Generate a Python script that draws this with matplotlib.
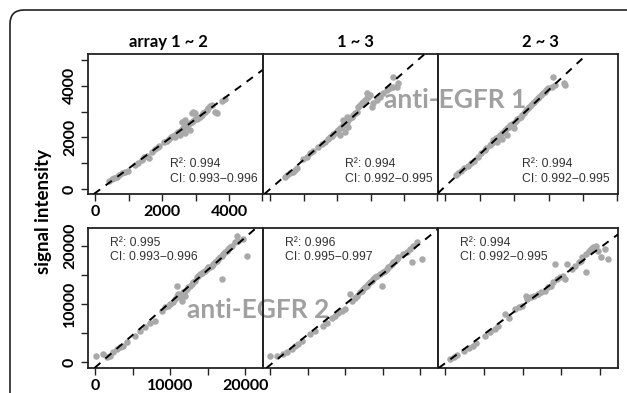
import numpy as np
import matplotlib.pyplot as plt
from matplotlib.patches import FancyBboxPatch
from matplotlib.transforms import IdentityTransform

plt.rcParams['font.family'] = ['Lato', 'DejaVu Sans']

W, H = 627, 393

# anti-EGFR 1 (top row), signal intensity pairs
e1_12_x = [418, 497, 577, 647, 726, 816, 896, 975, 1194, 1293, 1393, 1473, 1542, 1612, 1692, 1791,
           1871, 1910, 2070, 2139, 2209, 2269, 2338, 2388, 2438, 2488, 2537, 2587, 2637, 2687, 2736,
           2786, 2836, 2886, 2935, 2985, 3035, 2587, 2687, 2886, 2935, 2985, 3085, 3134, 3184, 3234,
           3284, 3333, 3383, 3433, 3483, 3582, 3632, 3781, 3880, 2388, 2537, 2687, 2836]
e1_12_y = [310, 375, 427, 478, 543, 608, 659, 711, 931, 1021, 1124, 1228, 1279, 1189, 1447, 1538,
           1615, 1667, 1822, 1874, 1951, 2003, 2055, 2093, 2158, 2210, 2261, 2313, 2352, 2391, 2468,
           2520, 2546, 2597, 2649, 2701, 2727, 2610, 2675, 2933, 2998, 2933, 2739, 2804, 2869, 2933,
           2998, 3062, 3127, 3218, 3256, 2998, 2959, 3424, 3476, 2003, 2093, 2184, 2287]

e1_13_x = [448, 517, 597, 677, 746, 816, 995, 1094, 1194, 1273, 1443, 1542, 1642, 1741, 1791, 1841,
           1891, 1940, 1990, 2040, 2089, 2139, 2189, 2239, 2288, 2338, 2388, 2438, 2488, 2537, 2587,
           2089, 2239, 2338, 2189, 2288, 2637, 2687, 2736, 2786, 2836, 2886, 2935, 2985, 2886, 3035,
           3085, 3184, 3284, 3383, 3483, 3582, 3682, 3781, 3682, 3831]
e1_13_y = [478, 543, 608, 672, 737, 801, 1150, 1254, 1383, 1486, 1641, 1745, 1835, 1925, 2003, 2055,
           2132, 2184, 2236, 2287, 2352, 2417, 2481, 2546, 2610, 2675, 2739, 2804, 2869, 2933, 2998,
           2093, 2223, 2416, 2675, 2804, 3192, 3256, 3321, 3385, 3450, 3515, 3579, 3644, 3708, 3192,
           3321, 3450, 3579, 3708, 3838, 3902, 3941, 3967, 4329, 4096]

e1_23_x = [298, 378, 448, 547, 647, 746, 846, 945, 1045, 1144, 1194, 1293, 1343, 1393, 1473, 1542,
           1592, 1642, 1692, 1741, 1791, 1841, 1891, 1940, 1990, 2040, 2089, 2139, 2189, 2239, 2288,
           1492, 1642, 1791, 1990, 2338, 2388, 2438, 2488, 2537, 2587, 2637, 2687, 2736, 2786, 2836,
           2886, 2935, 2985, 3085, 3184, 3134, 3433, 3483]
e1_23_y = [543, 608, 711, 801, 892, 1021, 1098, 1254, 1383, 1512, 1577, 1706, 1771, 1900, 1964, 2029,
           2093, 2158, 2223, 2287, 2352, 2417, 2481, 2520, 2571, 2649, 2701, 2739, 2804, 2869, 2933,
           1835, 1925, 2093, 2352, 3062, 3127, 3192, 3256, 3321, 3385, 3450, 3515, 3579, 3644, 3708,
           3773, 3838, 3902, 3967, 4031, 4355, 4096, 4031]

# anti-EGFR 2 (bottom row)
e2_12_x = [88, 1107, 1550, 1993, 2436, 2879, 3322, 3765, 4208, 5315, 5980, 6644, 7309, 7973, 8859,
           9302, 9745, 9967, 10410, 10631, 10853, 11074, 11296, 11517, 11739, 11960, 12182, 12403,
           12625, 12846, 13068, 13289, 13511, 13732, 13954, 14175, 14397, 14618, 14840, 15061, 15283,
           15504, 15726, 15947, 16169, 16390, 16612, 16833, 17055, 17276, 17498, 17719, 17941, 18162,
           18605, 19048, 19713, 18827, 20156, 16833, 10853, 11960]
e2_12_y = [1125, 1411, 840, 1125, 1697, 2268, 2553, 2839, 3410, 4552, 5408, 6093, 6664, 7121, 8720,
           9405, 9690, 9976, 10262, 10833, 11404, 11689, 11118, 10547, 11975, 12260, 12546, 12831,
           13117, 13402, 13688, 13973, 14544, 14830, 15115, 15229, 15400, 15686, 15972, 16257, 16371,
           16543, 16828, 17114, 17399, 17685, 17970, 18256, 18541, 18827, 19112, 19398, 19683, 19969,
           20540, 20825, 21111, 21682, 18256, 14259, 13117, 11404]

e2_13_x = [0, 885, 1771, 2214, 2879, 3322, 3765, 4208, 5315, 5980, 7087, 7530, 8195, 8638, 9081,
           9524, 9967, 10631, 10853, 11296, 11517, 11960, 12182, 12403, 12625, 12846, 13068, 13289,
           13511, 13732, 13954, 14175, 14618, 14840, 15061, 15283, 15504, 15726, 15947, 16169, 16390,
           16612, 16833, 17055, 17719, 18162, 18605, 19048, 19491, 20156, 18827]
e2_13_y = [1125, 1125, 1411, 1697, 2268, 2839, 3124, 3581, 4837, 5408, 6265, 6664, 7578, 7978, 8377,
           8720, 9120, 11689, 10547, 11004, 11404, 11975, 12260, 12546, 12831, 13117, 13402, 13688,
           13973, 14259, 14544, 14830, 15115, 13117, 15400, 15686, 15972, 16257, 16543, 16828, 17114,
           17399, 17685, 17970, 18541, 18827, 19398, 19969, 20540, 17685, 17114]

e2_23_x = [664, 1107, 1550, 2436, 3100, 3543, 3986, 5094, 5758, 6423, 6866, 7752, 8195, 9081, 9524,
           9967, 10410, 10631, 11074, 11517, 11960, 12403, 12846, 13289, 13732, 13954, 14397, 14840,
           15283, 15504, 14175, 15726, 16390, 16833, 17276, 17498, 17719, 18162, 18605, 18827, 19048,
           19713, 20156, 20599, 21042, 18162, 19491]
e2_23_y = [555, 954, 1297, 1982, 2439, 2839, 3238, 4552, 5123, 5694, 6265, 8263, 7578, 9120, 9405,
           9690, 11404, 10833, 11118, 11404, 11689, 11975, 12260, 12831, 13117, 13688, 14259, 14544,
           14830, 14259, 16828, 16828, 15972, 16543, 17114, 17399, 17970, 18541, 19112, 19398, 19683,
           19112, 17970, 19398, 17685, 15400, 19969]

titles = ['array 1 ~ 2', '1 ~ 3', '2 ~ 3']
stats_e1 = [('R²: 0.994', 'CI: 0.993−0.996'), ('R²: 0.994', 'CI: 0.992−0.995'),
            ('R²: 0.994', 'CI: 0.992−0.995')]
stats_e2 = [('R²: 0.995', 'CI: 0.993−0.996'), ('R²: 0.996', 'CI: 0.995−0.997'),
            ('R²: 0.994', 'CI: 0.992−0.995')]

rows = [
    dict(data=[(e1_12_x, e1_12_y), (e1_13_x, e1_13_y), (e1_23_x, e1_23_y)],
         stats=stats_e1, xlim=(-210, 5015), ylim=(-194, 5233), step=1000, lab=2000,
         top=54, bottom=194, stat_x=[170, 345, 522], stat_y=(164, 179)),
    dict(data=[(e2_12_x, e2_12_y), (e2_13_x, e2_13_y), (e2_23_x, e2_23_y)],
         stats=stats_e2, xlim=(-930, 22340), ylim=(-976, 23000), step=5000, lab=10000,
         top=228, bottom=368, stat_x=[110, 285, 460], stat_y=(243, 257)),
]
col_l = [88, 263, 438]
col_r = [263, 438, 618]

fig = plt.figure(figsize=(W / 100, H / 100), dpi=100)


def fx(x):
    return x / W


def fy(y):
    return 1 - y / H


for row in rows:
    for c in range(3):
        ax = fig.add_axes([fx(col_l[c]), fy(row['bottom']), fx(col_r[c] - col_l[c]),
                           (row['bottom'] - row['top']) / H])
        ax.patch.set_alpha(0)
        x = np.array(row['data'][c][0], float)
        y = np.array(row['data'][c][1], float)
        ax.scatter(x, y, s=22, color='#a9a9a9', linewidths=0, zorder=2)
        a, b = np.polyfit(x, y, 1)
        ax.axline((0, b), slope=a, color='black', lw=1.4, ls=(0, (4, 3.5)), zorder=3)
        ax.set_xlim(*row['xlim'])
        ax.set_ylim(*row['ylim'])
        ticks = np.arange(0, row['xlim'][1], row['step'])
        ax.set_xticks(ticks)
        ax.set_yticks(np.arange(0, row['ylim'][1], row['step']))
        for s in ax.spines.values():
            s.set_linewidth(1.3)
            s.set_color('#222222')
        ax.tick_params(direction='out', length=5, width=1, color='#222222',
                       labelsize=11.5, pad=3)
        if c == 0:
            ax.set_xticklabels([str(int(t)) if t % row['lab'] == 0 else '' for t in ticks],
                               fontweight='bold')
            yt = ax.get_yticks()
            ax.set_yticklabels([str(int(t)) if t % row['lab'] == 0 else '' for t in yt],
                               fontweight='bold', rotation=90, va='center')
        else:
            ax.set_xticklabels([])
            ax.tick_params(axis='y', left=False, labelleft=False)
        l1, l2 = row['stats'][c]
        fig.text(fx(row['stat_x'][c]), fy(row['stat_y'][0]), l1, family='Liberation Sans',
                 fontsize=8.8, color='#333333', va='center')
        fig.text(fx(row['stat_x'][c]), fy(row['stat_y'][1]), l2, family='Liberation Sans',
                 fontsize=8.8, color='#333333', va='center')

for t, xc in zip(titles, [168, 355, 540]):
    fig.text(fx(xc), fy(42), t, ha='center', va='center', fontsize=12, fontweight='bold')

fig.text(fx(43), fy(212), 'signal intensity', rotation=90, ha='center', va='center',
         fontsize=13.5, fontweight='bold')

# big watermark-like labels sit behind the panels
fig.text(fx(455), fy(100), 'anti-EGFR 1', ha='center', va='center', fontsize=19,
         color='#a0a0a0', fontweight='bold', zorder=-1)
fig.text(fx(258), fy(310), 'anti-EGFR 2', ha='center', va='center', fontsize=19,
         color='#a0a0a0', fontweight='bold', zorder=-1)

frame = FancyBboxPatch((10, -40), 650, H - 10 + 40, boxstyle='round,pad=0,rounding_size=14',
                       transform=IdentityTransform(), fill=False, ec='#222222', lw=1.2)
fig.add_artist(frame)

fig.savefig('out.png', dpi=100)
